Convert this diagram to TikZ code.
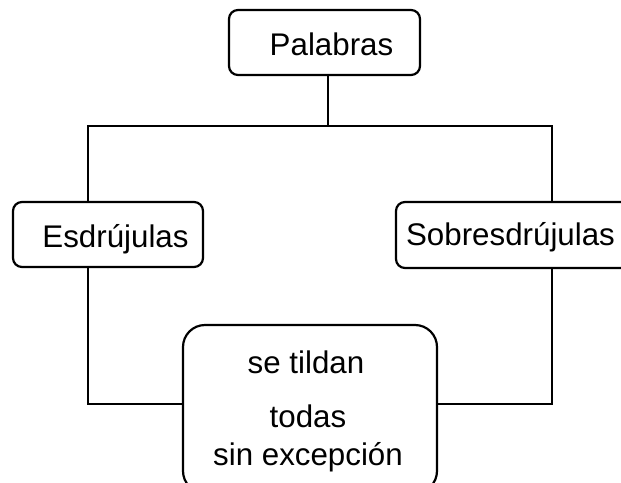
\documentclass[tikz,border=0pt]{standalone}
\usepackage{fontspec}
\setmainfont{Liberation Sans}
\begin{document}
\begin{tikzpicture}[x=1pt,y=-1pt,
  box/.style={draw,line width=2.2pt,rounded corners=9pt,inner sep=0pt},
  bigbox/.style={draw,line width=2.2pt,rounded corners=22pt,inner sep=0pt},
  txt/.style={inner sep=0pt,anchor=base,font=\fontsize{31.3}{37}\selectfont},
  conn/.style={line width=2.2pt}]
\clip (0,0) rectangle (621,482);
\useasboundingbox (0,0) rectangle (621,482);
\node[box,minimum width=191pt,minimum height=65pt] (pal) at (324.5,42.5) {};
\node[box,minimum width=190pt,minimum height=65pt] (esd) at (108,234.5) {};
\node[box,minimum width=250pt,minimum height=66pt] (sob) at (521,235) {};
\node[bigbox,minimum width=254pt,minimum height=168pt] (bot) at (310,409) {};
\node[txt] (tpal) at (331.5,55) {Palabras};
\node[txt] (tesd) at (115.5,247) {Esdrújulas};
\node[txt] (tsob) at (510.5,245) {Sobresdrújulas};
\node[txt] (t1) at (306,373) {se tildan};
\node[txt] (t2) at (308,427) {todas};
\node[txt] (t3) at (308,465) {sin excepción};
\coordinate (j) at (328,126);
\coordinate (tl) at (88,126);
\coordinate (tr) at (552,126);
\coordinate (bl) at (88,404);
\coordinate (br) at (552,404);
\draw[conn] (pal.south -| j) -- (j);
\draw[conn] (esd.north -| tl) -- (tl) -- (tr) -- (sob.north -| tr);
\draw[conn] (esd.south -| bl) -- (bl) -- (bl -| bot.west);
\draw[conn] (sob.south -| br) -- (br) -- (br -| bot.east);
\end{tikzpicture}
\end{document}
